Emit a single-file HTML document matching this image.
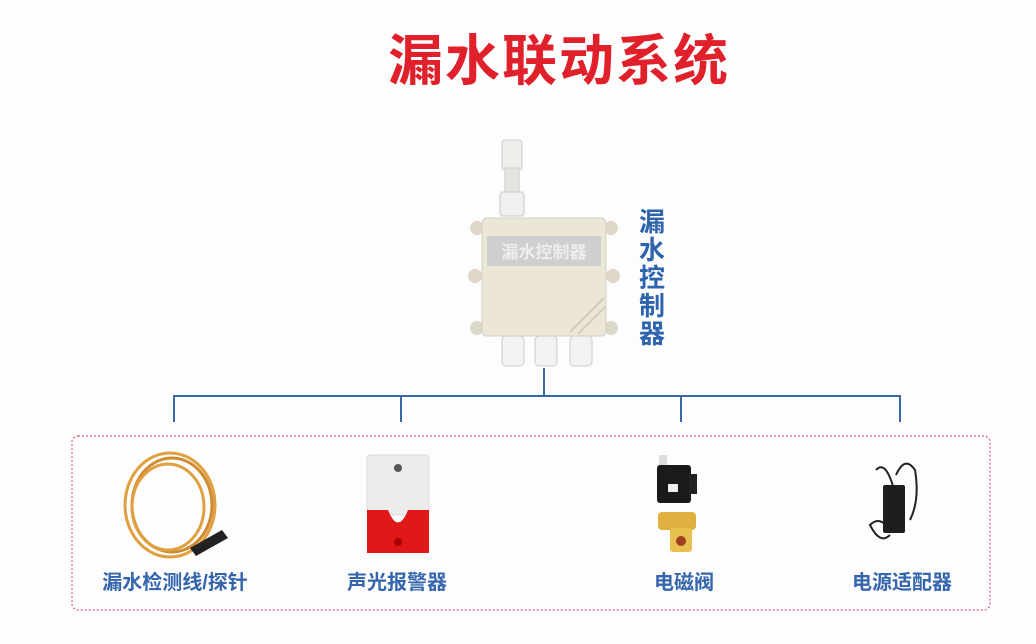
<!DOCTYPE html>
<html><head><meta charset="utf-8"><style>
body{margin:0;width:1036px;height:644px;background:#fdfdfd;position:relative;overflow:hidden;font-family:"Liberation Sans","Noto Sans CJK SC",sans-serif}
.t{position:absolute;white-space:nowrap}
.lbl{position:absolute;top:566px;font-size:20px;font-weight:bold;color:#3566ad;transform:translateX(-50%);white-space:nowrap}
</style></head><body>
<div class="t" style="left:388px;top:16px;font-size:55px;font-weight:bold;color:#e0202a;letter-spacing:2px">漏水联动系统</div>

<svg width="1036" height="644" style="position:absolute;left:0;top:0">
 <rect x="502" y="140" width="20" height="30" rx="3" fill="#eeeeea" stroke="#ccc"/>
 <rect x="505" y="168" width="14" height="26" fill="#e4e4e0" stroke="#ccc"/>
 <rect x="500" y="192" width="24" height="24" rx="3" fill="#f0f0ee" stroke="#c8c8c8"/>
 <circle cx="477" cy="228" r="7" fill="#ddd8c8"/><circle cx="611" cy="228" r="7" fill="#ddd8c8"/>
 <circle cx="475" cy="276" r="7" fill="#ddd8c8"/><circle cx="613" cy="276" r="7" fill="#ddd8c8"/>
 <circle cx="477" cy="328" r="7" fill="#ddd8c8"/><circle cx="611" cy="328" r="7" fill="#ddd8c8"/>
 <rect x="482" y="218" width="124" height="118" rx="5" fill="#ebe6d6" stroke="#d4cfbf"/>
 <rect x="487" y="236" width="114" height="30" fill="#cfcfcf"/>
 <text x="544" y="258" font-size="17" font-weight="bold" fill="#eeeeee" text-anchor="middle" font-family="Noto Sans CJK SC">漏水控制器</text>
 <line x1="570" y1="332" x2="604" y2="298" stroke="#d2cdbd" stroke-width="2"/>
 <line x1="578" y1="334" x2="605" y2="307" stroke="#d2cdbd" stroke-width="2"/>
 <rect x="502" y="336" width="22" height="30" rx="4" fill="#f2f2f2" stroke="#ccc"/>
 <rect x="535" y="336" width="22" height="30" rx="4" fill="#f2f2f2" stroke="#ccc"/>
 <rect x="570" y="336" width="22" height="30" rx="4" fill="#f2f2f2" stroke="#ccc"/>
 <g stroke="#3a68a8" stroke-width="2" fill="none">
  <line x1="544" y1="368" x2="544" y2="396"/>
  <line x1="174" y1="396" x2="900" y2="396"/>
  <line x1="174" y1="395" x2="174" y2="422"/>
  <line x1="401" y1="395" x2="401" y2="422"/>
  <line x1="681" y1="395" x2="681" y2="422"/>
  <line x1="900" y1="395" x2="900" y2="422"/>
 </g>
 <rect x="72" y="436" width="918" height="174" rx="6" fill="none" stroke="#e06070" stroke-width="1.2" stroke-dasharray="2,2"/>
 <g fill="none" stroke="#e0a040" stroke-width="3">
  <ellipse cx="170" cy="505" rx="45" ry="52"/>
  <ellipse cx="172" cy="505" rx="40" ry="47" stroke="#d08a30"/>
  <ellipse cx="168" cy="507" rx="36" ry="43"/>
 </g>
 <polygon points="190,548 222,530 228,538 196,556" fill="#222"/>
 <rect x="367" y="455" width="62" height="60" rx="3" fill="#ececec" stroke="#ddd"/>
 <circle cx="398" cy="468" r="4" fill="#555"/>
 <path d="M367 510 H388 Q398 535 408 510 H429 V553 H367 Z" fill="#e01818"/>
 <circle cx="398" cy="542" r="4" fill="#a00"/>
 <rect x="659" y="455" width="8" height="12" fill="#ddd"/>
 <rect x="657" y="465" width="34" height="38" rx="3" fill="#1a1a1a"/>
 <rect x="689" y="474" width="8" height="20" fill="#222"/>
 <rect x="668" y="484" width="10" height="8" fill="#eee"/>
 <rect x="658" y="512" width="38" height="18" rx="4" fill="#e0b040"/>
 <rect x="670" y="528" width="22" height="24" rx="3" fill="#e8c050"/>
 <circle cx="681" cy="541" r="5" fill="#a04020"/>
 <path d="M896 475 Q905 455 915 470 Q920 500 910 520" stroke="#222" stroke-width="2" fill="none"/>
 <path d="M890 535 Q880 545 870 525 Q880 515 890 530" stroke="#222" stroke-width="2" fill="none"/>
 <rect x="883" y="485" width="22" height="48" rx="2" fill="#1e1e1e"/>
 <path d="M876 470 Q885 460 893 486" stroke="#222" stroke-width="2" fill="none"/>
</svg>

<div class="t" style="left:639px;top:208px;font-size:26px;line-height:28px;font-weight:bold;color:#2e63ad;width:28px;white-space:normal">漏水控制器</div>

<div class="lbl" style="left:175px">漏水检测线/探针</div>
<div class="lbl" style="left:397px">声光报警器</div>
<div class="lbl" style="left:684px">电磁阀</div>
<div class="lbl" style="left:902px">电源适配器</div>
</body></html>
